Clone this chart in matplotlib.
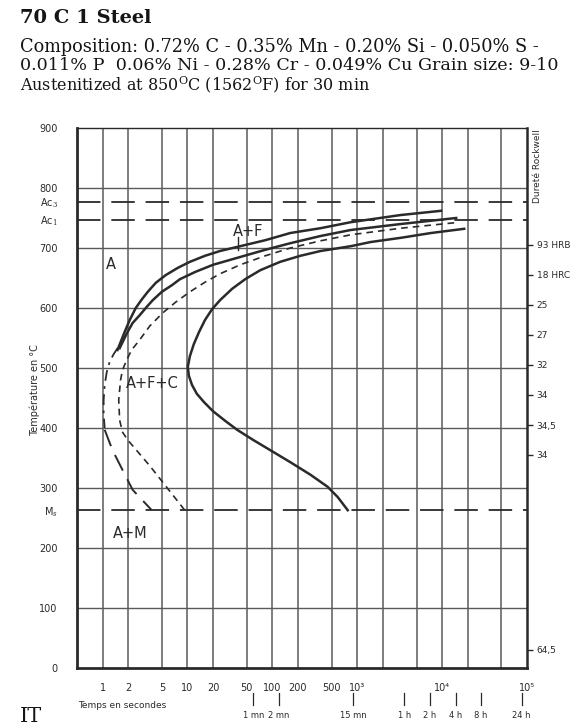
import matplotlib
matplotlib.use("Agg")
import matplotlib.pyplot as plt

plt.rcParams['mathtext.fontset'] = 'dejavuserif'

# ---------------- data ----------------
ac3_temp = 777
ac1_temp = 747
ms_temp = 263

# start of transformation (upper solid curve)
start_time = [1.50, 1.63, 1.82, 2.09, 2.46, 2.89, 3.41, 4.24, 5.57, 7.72, 10.7, 16.1, 24.2,
              41.8, 82.6, 163, 370, 838, 3270, 9730]
start_temp = [530, 543, 560, 580, 600, 614, 627, 642, 655, 667, 677, 687, 695,
              703, 713, 725, 733, 743, 755, 762]

# second solid curve
ferrite_time = [1.59, 1.72, 1.92, 2.26, 2.74, 3.32, 3.90, 4.99, 6.56, 8.15, 12.3, 20.0,
                41.8, 82.6, 163, 370, 838, 3270, 14650]
ferrite_temp = [533, 543, 557, 575, 588, 602, 613, 627, 638, 648, 660, 672,
                685, 697, 708, 720, 730, 740, 750]

# 50 % curve (short dashes)
half_time = [13870, 3270, 838, 370, 163, 82.6, 41.8, 24.2, 16.1, 10.7, 7.31, 5.13, 3.60,
             2.74, 2.20, 1.92, 1.72, 1.63, 1.55, 1.59, 1.72, 1.98, 3.60, 9.3]
half_temp = [742, 733, 722, 712, 700, 687, 672, 657, 643, 627, 610, 592, 570,
             547, 530, 513, 497, 480, 447, 413, 393, 380, 337, 263]

# end of transformation (C curve)
end_time = [18200, 7410, 3270, 1445, 838, 370, 214, 124, 72.1, 47.9, 33.6, 24.2, 19.5, 16.1,
            13.7, 11.9, 10.7, 10.1, 10.4, 11.3, 12.9, 15.7, 20.0, 27.8, 38.5, 59.6, 94.7,
            163, 282, 448, 588, 773]
end_temp = [732, 725, 717, 710, 703, 695, 687, 677, 663, 648, 632, 613, 598, 580,
            560, 540, 520, 502, 487, 472, 457, 443, 428, 412, 397, 380, 363,
            343, 322, 302, 285, 263]

# lower-left start curve (dash-dot, then long dash)
bainite_time = [1.50, 1.35, 1.21, 1.12, 1.06, 1.03, 1.03, 1.06]
bainite_temp = [533, 523, 510, 493, 472, 447, 422, 400]
lower_time = [1.06, 1.31, 1.72, 2.26, 3.8]
lower_temp = [397, 363, 330, 297, 263]

# axis ticks
x_ticks = [1, 2, 5, 10, 20, 50, 100, 200, 500, 1000, 10000, 100000]
x_tick_labels = ["1", "2", "5", "10", "20", "50", "100", "200", "500", "10³", "10⁴", "10⁵"]
x_grid = [1, 2, 5, 10, 20, 50, 100, 200, 500, 1000, 2000, 5000, 10000, 20000, 50000]
y_grid = [100, 200, 300, 400, 500, 600, 700, 800]
y_ticks = [0, 100, 200, 263, 300, 400, 500, 600, 700, 747, 777, 800, 900]
y_tick_labels = ["0", "100", "200", "M$_s$", "300", "400", "500", "600", "700",
                 "Ac$_1$", "Ac$_3$", "800", "900"]

# time markers below the axis
marker_time = [60, 120, 900, 3600, 7200, 14400, 28800, 86400]
marker_labels = ["1 mn", "2 mn", "15 mn", "1 h", "2 h", "4 h", "8 h", "24 h"]

# hardness scale (right)
hard_temp = [705, 655, 605, 555, 505, 455, 405, 355, 30]
hard_labels = ["93 HRB", "18 HRC", "25", "27", "32", "34", "34,5", "34", "64,5"]

# region labels
region_text = ["A", "A+F", "A+F+C", "A+M"]
region_time = [1.24, 52, 3.9, 2.1]
region_temp = [672, 728, 475, 225]

# ---------------- figure ----------------
W, H = 586, 724
fig = plt.figure(figsize=(W / 100, H / 100), dpi=100)
ax = fig.add_axes([77 / W, 1 - 668 / H, 450 / W, 540 / H])
ink = "#2a2a2a"
gridc = "#5a5a5a"

ax.set_xscale("log")
ax.set_xlim(0.5, 1e5)
ax.set_ylim(0, 900)

for xv in x_grid:
    ax.axvline(xv, color=gridc, lw=1.1, zorder=1)
for yv in y_grid:
    ax.axhline(yv, color=gridc, lw=1.0, zorder=1)

for tv in (ac3_temp, ac1_temp, ms_temp):
    ax.axhline(tv, color=ink, lw=1.3, ls=(0, (13, 6)), zorder=2)

curve_kw = dict(color=ink, zorder=3, solid_joinstyle="round", dash_joinstyle="round")
ax.plot(start_time, start_temp, lw=1.8, **curve_kw)
ax.plot(ferrite_time, ferrite_temp, lw=1.8, **curve_kw)
ax.plot(half_time, half_temp, lw=1.2, ls=(0, (4, 3)), **curve_kw)
ax.plot(end_time, end_temp, lw=1.8, **curve_kw)
ax.plot(bainite_time, bainite_temp, lw=1.3, ls=(0, (6, 3, 1.5, 3)), **curve_kw)
ax.plot(lower_time, lower_temp, lw=1.4, ls=(0, (9, 5)), **curve_kw)

# leader for A+F
ax.plot([39.6, 39.6], [718, 697], color=ink, lw=1.0, zorder=3)

for txt, tx, ty in zip(region_text, region_time, region_temp):
    ax.text(tx, ty, txt, ha="center", va="center", fontsize=10.5, color=ink, zorder=4)

ax.set_xticks(x_ticks)
ax.set_xticklabels(x_tick_labels)
ax.xaxis.set_minor_locator(matplotlib.ticker.NullLocator())
ax.set_yticks(y_ticks)
ax.set_yticklabels(y_tick_labels)
ax.tick_params(axis="x", length=0, pad=11, labelsize=7, labelcolor=ink)
ax.tick_params(axis="y", length=0, pad=14, labelsize=7, labelcolor=ink)

for s in ("left", "bottom"):
    ax.spines[s].set_linewidth(2.0)
ax.spines["right"].set_linewidth(1.8)
ax.spines["top"].set_linewidth(1.0)
for s in ax.spines.values():
    s.set_color(ink)

# right hardness axis
axr = ax.twinx()
axr.set_ylim(0, 900)
axr.set_yticks(hard_temp)
axr.set_yticklabels(hard_labels)
axr.tick_params(axis="y", length=4, width=1, pad=3, labelsize=6.5, color=ink, labelcolor=ink)
for s in axr.spines.values():
    s.set_visible(False)

fig.text(538 / W, 1 - 166 / H, "Dureté Rockwell", rotation=90, ha="center", va="center",
         fontsize=6.5, color=ink)

# time markers
tr = ax.get_xaxis_transform()
for mt, ml in zip(marker_time, marker_labels):
    ax.plot([mt, mt], [-25 / 540, -37 / 540], transform=tr, color=ink, lw=0.9, clip_on=False)
    ax.text(mt, -48 / 540, ml, transform=tr, ha="center", va="center", fontsize=6, color=ink)

ax.text(0.002, -37 / 540, "Temps en secondes", transform=ax.transAxes, ha="left", va="center",
        fontsize=6.5, color=ink)

fig.text(35 / W, 1 - 390 / H, "Température en °C", rotation=90, ha="center", va="center",
         fontsize=7, color=ink)

# header
hdr = "#151515"
fig.text(20 / W, 1 - 18 / H, "70 C 1 Steel", fontsize=14, fontweight="bold",
         family="DejaVu Serif", ha="left", va="center", color=hdr)
fig.text(20 / W, 1 - 47 / H, "Composition: 0.72% C - 0.35% Mn - 0.20% Si - 0.050% S -",
         fontsize=12.8, family="DejaVu Serif", ha="left", va="center", color=hdr)
fig.text(20 / W, 1 - 66 / H, "0.011% P  0.06% Ni - 0.28% Cr - 0.049% Cu Grain size: 9-10",
         fontsize=12.6, family="DejaVu Serif", ha="left", va="center", color=hdr)
fig.text(20 / W, 1 - 85 / H, r"Austenitized at 850$^{\rm O}$C (1562$^{\rm O}$F) for 30 min",
         fontsize=11.5, family="DejaVu Serif", ha="left", va="center", color=hdr)

fig.text(20 / W, 1 - 716 / H, "IT", fontsize=15, family="DejaVu Serif", ha="left", va="center",
         color=hdr)

fig.savefig("out.png", dpi=100)
